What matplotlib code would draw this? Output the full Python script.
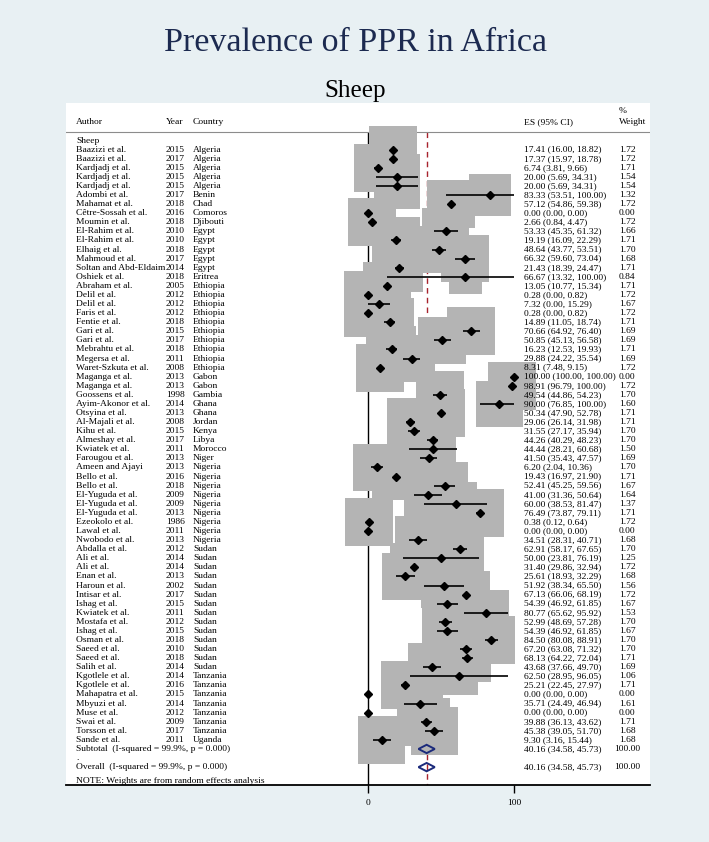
import numpy as np
import matplotlib
matplotlib.use("Agg")
import matplotlib.pyplot as plt
from matplotlib.patches import Polygon

# ---------------- data ----------------
authors = [
    "Baazizi et al.", "Baazizi et al.", "Kardjadj et al.", "Kardjadj et al.", "Kardjadj et al.",
    "Adombi et al.", "Mahamat et al.", "Cêtre-Sossah et al.", "Moumin et al.", "El-Rahim et al.",
    "El-Rahim et al.", "Elhaig et al.", "Mahmoud et al.", "Soltan and Abd-Eldaim", "Oshiek et al.",
    "Abraham et al.", "Delil et al.", "Delil et al.", "Faris et al.", "Fentie et al.",
    "Gari et al.", "Gari et al.", "Mebrahtu et al.", "Megersa et al.", "Waret-Szkuta et al.",
    "Maganga et al.", "Maganga et al.", "Goossens et al.", "Ayim-Akonor et al.", "Otsyina et al.",
    "Al-Majali et al.", "Kihu et al.", "Almeshay et al.", "Kwiatek et al.", "Farougou et al.",
    "Ameen and Ajayi", "Bello et al.", "Bello et al.", "El-Yuguda et al.", "El-Yuguda et al.",
    "El-Yuguda et al.", "Ezeokolo et al.", "Lawal et al.", "Nwobodo et al.", "Abdalla et al.",
    "Ali et al.", "Ali et al.", "Enan et al.", "Haroun et al.", "Intisar et al.",
    "Ishag et al.", "Kwiatek et al.", "Mostafa et al.", "Ishag et al.", "Osman et al.",
    "Saeed et al.", "Saeed et al.", "Salih et al.", "Kgotlele et al.", "Kgotlele et al.",
    "Mahapatra et al.", "Mbyuzi et al.", "Muse et al.", "Swai et al.", "Torsson et al.",
    "Sande et al.",
]
years = [
    2015, 2017, 2015, 2015, 2015, 2017, 2018, 2016, 2018, 2010,
    2010, 2018, 2017, 2014, 2018, 2005, 2012, 2012, 2012, 2018,
    2015, 2017, 2018, 2011, 2008, 2013, 2013, 1998, 2014, 2013,
    2008, 2015, 2017, 2011, 2013, 2013, 2016, 2018, 2009, 2009,
    2013, 1986, 2011, 2013, 2012, 2014, 2014, 2013, 2002, 2017,
    2015, 2011, 2012, 2015, 2018, 2010, 2018, 2014, 2014, 2016,
    2015, 2014, 2012, 2009, 2017, 2011,
]
countries = [
    "Algeria", "Algeria", "Algeria", "Algeria", "Algeria", "Benin", "Chad", "Comoros", "Djibouti", "Egypt",
    "Egypt", "Egypt", "Egypt", "Egypt", "Eritrea", "Ethiopia", "Ethiopia", "Ethiopia", "Ethiopia", "Ethiopia",
    "Ethiopia", "Ethiopia", "Ethiopia", "Ethiopia", "Ethiopia", "Gabon", "Gabon", "Gambia", "Ghana", "Ghana",
    "Jordan", "Kenya", "Libya", "Morocco", "Niger", "Nigeria", "Nigeria", "Nigeria", "Nigeria", "Nigeria",
    "Nigeria", "Nigeria", "Nigeria", "Nigeria", "Sudan", "Sudan", "Sudan", "Sudan", "Sudan", "Sudan",
    "Sudan", "Sudan", "Sudan", "Sudan", "Sudan", "Sudan", "Sudan", "Sudan", "Tanzania", "Tanzania",
    "Tanzania", "Tanzania", "Tanzania", "Tanzania", "Tanzania", "Uganda",
]
es = [
    17.41, 17.37, 6.74, 20.00, 20.00, 83.33, 57.12, 0.00, 2.66, 53.33,
    19.19, 48.64, 66.32, 21.43, 66.67, 13.05, 0.28, 7.32, 0.28, 14.89,
    70.66, 50.85, 16.23, 29.88, 8.31, 100.00, 98.91, 49.54, 90.00, 50.34,
    29.06, 31.55, 44.26, 44.44, 41.50, 6.20, 19.43, 52.41, 41.00, 60.00,
    76.49, 0.38, 0.00, 34.51, 62.91, 50.00, 31.40, 25.61, 51.92, 67.13,
    54.39, 80.77, 52.99, 54.39, 84.50, 67.20, 68.13, 43.68, 62.50, 25.21,
    0.00, 35.71, 0.00, 39.88, 45.38, 9.30,
]
lo = [
    16.00, 15.97, 3.81, 5.69, 5.69, 53.51, 54.86, 0.00, 0.84, 45.35,
    16.09, 43.77, 59.60, 18.39, 13.32, 10.77, 0.00, 0.00, 0.00, 11.05,
    64.92, 45.13, 12.53, 24.22, 7.48, 100.00, 96.79, 44.86, 76.85, 47.90,
    26.14, 27.17, 40.29, 28.21, 35.43, 2.04, 16.97, 45.25, 31.36, 38.53,
    73.87, 0.12, 0.00, 28.31, 58.17, 23.81, 29.86, 18.93, 38.34, 66.06,
    46.92, 65.62, 48.69, 46.92, 80.08, 63.08, 64.22, 37.66, 28.95, 22.45,
    0.00, 24.49, 0.00, 36.13, 39.05, 3.16,
]
hi = [
    18.82, 18.78, 9.66, 34.31, 34.31, 100.00, 59.38, 0.00, 4.47, 61.32,
    22.29, 53.51, 73.04, 24.47, 100.00, 15.34, 0.82, 15.29, 0.82, 18.74,
    76.40, 56.58, 19.93, 35.54, 9.15, 100.00, 100.00, 54.23, 100.00, 52.78,
    31.98, 35.94, 48.23, 60.68, 47.57, 10.36, 21.90, 59.56, 50.64, 81.47,
    79.11, 0.64, 0.00, 40.71, 67.65, 76.19, 32.94, 32.29, 65.50, 68.19,
    61.85, 95.92, 57.28, 61.85, 88.91, 71.32, 72.04, 49.70, 96.05, 27.97,
    0.00, 46.94, 0.00, 43.62, 51.70, 15.44,
]
weights = [
    1.72, 1.72, 1.71, 1.54, 1.54, 1.32, 1.72, 0.00, 1.72, 1.66,
    1.71, 1.70, 1.68, 1.71, 0.84, 1.71, 1.72, 1.67, 1.72, 1.71,
    1.69, 1.69, 1.71, 1.69, 1.72, 0.00, 1.72, 1.70, 1.60, 1.71,
    1.71, 1.70, 1.70, 1.50, 1.69, 1.70, 1.71, 1.67, 1.64, 1.37,
    1.71, 1.72, 0.00, 1.68, 1.70, 1.25, 1.72, 1.68, 1.56, 1.72,
    1.67, 1.53, 1.70, 1.67, 1.70, 1.70, 1.71, 1.69, 1.06, 1.71,
    0.00, 1.61, 0.00, 1.71, 1.68, 1.68,
]
pooled_es, pooled_lo, pooled_hi, pooled_w = 40.16, 34.58, 45.73, 100.00
group_label = "Sheep"
subtotal_label = "Subtotal  (I-squared = 99.9%, p = 0.000)"
overall_label = "Overall  (I-squared = 99.9%, p = 0.000)"
note_label = "NOTE: Weights are from random effects analysis"
xticks = [0, 100]

# ---------------- layout ----------------
W, H = 709, 842
BG = '#e8f0f3'
plt.rcParams['font.family'] = ['Liberation Serif', 'DejaVu Serif']

fig = plt.figure(figsize=(W / 100, H / 100), dpi=100, facecolor=BG)
fig.text(355 / W, 1 - 43 / H, "Prevalence of PPR in Africa", ha='center', va='center',
         fontsize=24.5, color='#1c2a50')
fig.text(355 / W, 1 - 91 / H, group_label, ha='center', va='center', fontsize=18, color='black')

PX_LEFT, PX_RIGHT, PX_TOP, PX_BOT = 66, 650, 103, 785
X0PX, PXU = 368, 1.46          # pixel of x=0, pixels per unit
ROW0, PITCH = 140.6, 9.08      # pixel of row 0, row pitch

ax = fig.add_axes([PX_LEFT / W, 1 - PX_BOT / H, (PX_RIGHT - PX_LEFT) / W, (PX_BOT - PX_TOP) / H])
ax.set_facecolor('white')
ax.set_xlim((PX_LEFT - X0PX) / PXU, (PX_RIGHT - X0PX) / PXU)
ax.set_ylim((PX_BOT - ROW0) / PITCH, (PX_TOP - ROW0) / PITCH)


def dx(px):
    return (px - X0PX) / PXU


def ry(px):
    return (px - ROW0) / PITCH


n = len(es)
rows = np.arange(1, n + 1)
r_sub = n + 1
r_dot = n + 2
r_all = n + 3
header_line = ry(132.5)
bottom = ax.get_ylim()[0]

FS = 6.8
X_AUTH, X_YEAR, X_CTRY, X_ES, X_WT = 76, 166, 193, 524, 627
# header
ax.text(dx(X_AUTH), ry(122), "Author", fontsize=FS, va='center', ha='left')
ax.text(dx(X_YEAR), ry(122), "Year", fontsize=FS, va='center', ha='left')
ax.text(dx(X_CTRY), ry(122), "Country", fontsize=FS, va='center', ha='left')
ax.text(dx(X_ES), ry(122), "ES (95% CI)", fontsize=FS, va='center', ha='left')
ax.text(dx(619), ry(111), "%", fontsize=FS, va='center', ha='left')
ax.text(dx(619), ry(122), "Weight", fontsize=FS, va='center', ha='left')
ax.axhline(header_line, color='#8c8c8c', lw=0.8)

# reference lines
ax.vlines(0, header_line, bottom, color='black', lw=1.0, zorder=1)
ax.vlines(pooled_es, header_line, bottom, color='#a8232d', lw=1.0,
          linestyles=(0, (4, 3)), zorder=1)

# weight boxes (area proportional to weight)
w = np.array(weights)
ax.scatter(es, rows, s=694 * w, marker='s', color='#b4b4b4', edgecolors='none', zorder=2)

# confidence intervals and point estimates
ax.hlines(rows, lo, hi, color='black', lw=1.2, zorder=3)
ax.plot(es, rows, ls='none', marker='D', ms=3.6, color='black', zorder=4)

# pooled diamonds
h = 0.46
for r in (r_sub, r_all):
    poly = Polygon([(pooled_lo, r), (pooled_es, r - h), (pooled_hi, r), (pooled_es, r + h)],
                   closed=True, fill=False, edgecolor='#1b2a7b', lw=1.4, zorder=5)
    ax.add_patch(poly)

# table text
ax.text(dx(X_AUTH), 0, group_label, fontsize=FS, va='center', ha='left')
for r, a, y, c, e, l, u, wt in zip(rows, authors, years, countries, es, lo, hi, weights):
    ax.text(dx(X_AUTH), r, a, fontsize=FS, va='center', ha='left')
    ax.text(dx(X_YEAR), r, str(y), fontsize=FS, va='center', ha='left')
    ax.text(dx(X_CTRY), r, c, fontsize=FS, va='center', ha='left')
    ax.text(dx(X_ES), r, f"{e:.2f} ({l:.2f}, {u:.2f})", fontsize=FS, va='center', ha='left')
    ax.text(dx(X_WT), r, f"{wt:.2f}", fontsize=FS, va='center', ha='center')

pooled_txt = f"{pooled_es:.2f} ({pooled_lo:.2f}, {pooled_hi:.2f})"
ax.text(dx(X_AUTH), r_sub, subtotal_label, fontsize=FS, va='center', ha='left')
ax.text(dx(X_ES), r_sub, pooled_txt, fontsize=FS, va='center', ha='left')
ax.text(dx(X_WT), r_sub, f"{pooled_w:.2f}", fontsize=FS, va='center', ha='center')
ax.text(dx(X_AUTH), r_dot, ".", fontsize=FS, va='center', ha='left')
ax.text(dx(X_AUTH), r_all, overall_label, fontsize=FS, va='center', ha='left')
ax.text(dx(X_ES), r_all, pooled_txt, fontsize=FS, va='center', ha='left')
ax.text(dx(X_WT), r_all, f"{pooled_w:.2f}", fontsize=FS, va='center', ha='center')
ax.text(dx(X_AUTH), ry(783.3), note_label, fontsize=FS, va='baseline', ha='left')

# axis
for s in ('top', 'left', 'right'):
    ax.spines[s].set_visible(False)
ax.spines['bottom'].set_linewidth(1.3)
ax.spines['bottom'].set_color('black')
ax.set_yticks([])
ax.set_xticks(xticks)
ax.set_xticklabels([str(t) for t in xticks])
ax.tick_params(axis='x', direction='out', length=6, width=1.0, labelsize=FS, pad=4, colors='black')

fig.savefig("out.png", dpi=100, facecolor=BG)
